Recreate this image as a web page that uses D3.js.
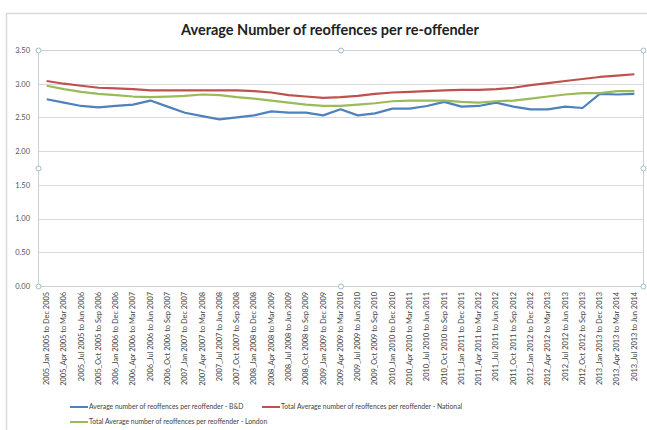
<!DOCTYPE html>
<html>
<head>
<meta charset="utf-8">
<script src="https://cdn.jsdelivr.net/npm/d3@7"></script>
<style>
  body { margin: 0; background: #fff; }
  text { font-family: Lato, "Open Sans", sans-serif; }
</style>
</head>
<body>
<script>
// quarters, rolling 12 month periods
const periods = [
  "2005_Jan 2005 to Dec 2005", "2005_Apr 2005 to Mar 2006", "2005_Jul 2005 to Jun 2006", "2005_Oct 2005 to Sep 2006",
  "2006_Jan 2006 to Dec 2006", "2006_Apr 2006 to Mar 2007", "2006_Jul 2006 to Jun 2007", "2006_Oct 2006 to Sep 2007",
  "2007_Jan 2007 to Dec 2007", "2007_Apr 2007 to Mar 2008", "2007_Jul 2007 to Jun 2008", "2007_Oct 2007 to Sep 2008",
  "2008_Jan 2008 to Dec 2008", "2008_Apr 2008 to Mar 2009", "2008_Jul 2008 to Jun 2009", "2008_Oct 2008 to Sep 2009",
  "2009_Jan 2009 to Dec 2009", "2009_Apr 2009 to Mar 2010", "2009_Jul 2009 to Jun 2010", "2009_Oct 2009 to Sep 2010",
  "2010_Jan 2010 to Dec 2010", "2010_Apr 2010 to Mar 2011", "2010_Jul 2010 to Jun 2011", "2010_Oct 2010 to Sep 2011",
  "2011_Jan 2011 to Dec 2011", "2011_Apr 2011 to Mar 2012", "2011_Jul 2011 to Jun 2012", "2011_Oct 2011 to Sep 2012",
  "2012_Jan 2012 to Dec 2012", "2012_Apr 2012 to Mar 2013", "2012_Jul 2012 to Jun 2013", "2012_Oct 2012 to Sep 2013",
  "2013_Jan 2013 to Dec 2013", "2013_Apr 2013 to Mar 2014", "2013_Jul 2013 to Jun 2014"
];

const bdValues = [2.77, 2.72, 2.67, 2.65, 2.67, 2.69, 2.75, 2.66, 2.57, 2.52, 2.47, 2.50, 2.53, 2.59, 2.57, 2.57,
  2.53, 2.62, 2.53, 2.56, 2.63, 2.63, 2.67, 2.73, 2.66, 2.67, 2.72, 2.66, 2.62, 2.62, 2.66, 2.64, 2.85, 2.84, 2.85];

const nationalValues = [3.04, 3.00, 2.97, 2.94, 2.93, 2.92, 2.90, 2.90, 2.90, 2.90, 2.90, 2.90, 2.89, 2.87, 2.83, 2.81,
  2.79, 2.80, 2.82, 2.85, 2.87, 2.88, 2.89, 2.90, 2.91, 2.91, 2.92, 2.94, 2.98, 3.01, 3.04, 3.07, 3.10, 3.12, 3.14];

const londonValues = [2.97, 2.92, 2.88, 2.85, 2.83, 2.81, 2.80, 2.81, 2.82, 2.84, 2.83, 2.80, 2.78, 2.75, 2.72, 2.69,
  2.67, 2.67, 2.69, 2.71, 2.74, 2.75, 2.75, 2.75, 2.73, 2.72, 2.74, 2.75, 2.78, 2.81, 2.84, 2.86, 2.86, 2.89, 2.89];

const yTicks = [0, 0.5, 1, 1.5, 2, 2.5, 3, 3.5];

const seriesNames = [
  "Average number of reoffences per reoffender - B&D",
  "Total Average number of reoffences per reoffender - National",
  "Total Average number of reoffences per reoffender - London"
];
const seriesColors = ["#4f81bd", "#c0504d", "#9bbb59"];

const width = 647, height = 430;
const plot = {left: 38, top: 50, right: 643, bottom: 286};

const svg = d3.select("body").append("svg")
  .attr("width", width)
  .attr("height", height);

// outer chart frame
svg.append("path")
  .attr("d", `M6.5,${height} V13.5 H${width}`)
  .attr("fill", "none")
  .attr("stroke", "#d5dcdc")
  .attr("stroke-width", 1.5);

svg.append("text")
  .attr("x", 330)
  .attr("y", 35)
  .attr("text-anchor", "middle")
  .attr("font-size", 14.5)
  .attr("font-weight", "bold")
  .attr("fill", "#222")
  .text("Average Number of reoffences per re-offender");

const x = d3.scaleBand()
  .domain(periods)
  .range([plot.left, plot.right]);

const y = d3.scaleLinear()
  .domain([0, 3.5])
  .range([plot.bottom, plot.top]);

// gridlines
svg.append("g")
  .selectAll("line")
  .data(yTicks)
  .enter().append("line")
  .attr("x1", plot.left)
  .attr("x2", plot.right)
  .attr("y1", d => Math.round(y(d)) + 0.5)
  .attr("y2", d => Math.round(y(d)) + 0.5)
  .attr("stroke", "#d9d9d9")
  .attr("stroke-width", 1);

// plot area frame (selected look)
svg.append("rect")
  .attr("x", plot.left + 0.5)
  .attr("y", plot.top + 0.5)
  .attr("width", plot.right - plot.left)
  .attr("height", plot.bottom - plot.top)
  .attr("fill", "none")
  .attr("stroke", "#c8d2d4")
  .attr("stroke-width", 1);

// y axis labels
const yAxis = svg.append("g")
  .attr("transform", `translate(${plot.left},0)`)
  .call(d3.axisLeft(y).tickValues(yTicks).tickFormat(d3.format(".2f")).tickSize(0).tickPadding(8));
yAxis.select(".domain").remove();
yAxis.selectAll("text")
  .attr("font-size", 7.5)
  .attr("fill", "#555")
  .style("font-family", "Lato, sans-serif");

// x axis labels
const xAxis = svg.append("g")
  .attr("transform", `translate(0,${plot.bottom})`)
  .call(d3.axisBottom(x).tickSize(0));
xAxis.select(".domain").remove();
xAxis.selectAll("text")
  .attr("font-size", 7.4)
  .attr("fill", "#444")
  .style("font-family", "Lato, sans-serif")
  .attr("text-anchor", "end")
  .attr("transform", "rotate(-90)")
  .attr("dx", "-6")
  .attr("dy", "0.32em")
  .attr("x", 0)
  .attr("y", 0);

// lines
const line = d3.line()
  .x((d, i) => x(periods[i]) + x.bandwidth() / 2)
  .y(d => y(d));

[bdValues, nationalValues, londonValues].forEach(function(vals, k) {
  svg.append("path")
    .datum(vals)
    .attr("fill", "none")
    .attr("stroke", seriesColors[k])
    .attr("stroke-width", 2.2)
    .attr("stroke-linejoin", "round")
    .attr("d", line);
});

// selection handles
const handles = [
  [plot.left, plot.top], [(plot.left + plot.right) / 2, plot.top], [plot.right, plot.top],
  [plot.left, (plot.top + plot.bottom) / 2], [plot.right, (plot.top + plot.bottom) / 2],
  [plot.left, plot.bottom], [(plot.left + plot.right) / 2, plot.bottom], [plot.right, plot.bottom]
];
svg.append("g")
  .selectAll("circle")
  .data(handles)
  .enter().append("circle")
  .attr("cx", d => d[0] + 0.5)
  .attr("cy", d => d[1] + 0.5)
  .attr("r", 2.5)
  .attr("fill", "#fff")
  .attr("stroke", "#9fbcc4")
  .attr("stroke-width", 1);

// legend
const legendPos = [[70, 407], [262, 407], [70, 422]];
const legend = svg.append("g")
  .selectAll("g")
  .data(seriesNames)
  .enter().append("g")
  .attr("transform", (d, i) => `translate(${legendPos[i][0]},${legendPos[i][1]})`);
legend.append("line")
  .attr("x1", 0).attr("x2", 18)
  .attr("stroke", (d, i) => seriesColors[i])
  .attr("stroke-width", 2);
legend.append("text")
  .attr("x", 19)
  .attr("dy", "0.32em")
  .attr("font-size", 6.8)
  .attr("fill", "#444")
  .text(d => d);
</script>
</body>
</html>
